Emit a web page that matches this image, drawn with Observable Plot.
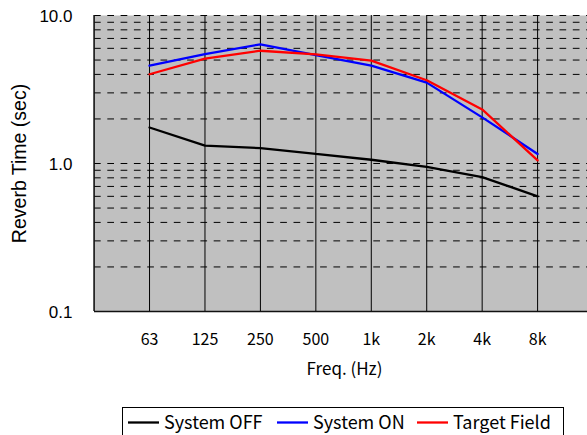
<!DOCTYPE html>
<html><head><meta charset="utf-8">
<script src="https://cdn.jsdelivr.net/npm/d3@7"></script>
<script src="https://cdn.jsdelivr.net/npm/@observablehq/plot@0.6"></script>
<style>
body{margin:0;width:587px;height:435px;overflow:hidden;background:#fff;position:relative}
#chart{position:absolute;left:0;top:0}
#legend{position:absolute;left:0;top:392px}
</style></head><body><div id="chart"></div><div id="legend"></div>
<script>
const freqLabels = ["63","125","250","500","1k","2k","4k","8k"];
const systemOff = [1.75,1.32,1.27,1.16,1.06,0.95,0.81,0.60];
const systemOn = [4.58,5.49,6.39,5.40,4.58,3.52,2.05,1.16];
const targetField = [4.01,5.11,5.78,5.47,4.95,3.65,2.32,1.05];
const seriesNames = ["System OFF","System ON","Target Field"];
const seriesColors = ["#000000","#0000ff","#ff0000"];
const yTicks = [0.1,1,10];
const gridValues = [0.2,0.3,0.4,0.5,0.6,0.7,0.8,0.9,1,2,3,4,5,6,7,8,9,10];
const yTitle = "Reverb Time (sec)";
const xTitle = "Freq. (Hz)";

const seriesValues = [systemOff, systemOn, targetField];
const rows = [];
seriesValues.forEach((vals, s) => vals.forEach((v, i) => rows.push({series: seriesNames[s], idx: i + 1, value: v})));
const catIdx = freqLabels.map((_, i) => i + 1);

const W = 587, H = 392;
const chart = Plot.plot({
  width: W, height: H,
  marginLeft: 94, marginRight: 0, marginTop: 15, marginBottom: H - 311,
  x: {type: "linear", domain: [0, 8.9], range: [93.6, 587], axis: null},
  y: {type: "log", domain: [0.1, 10], range: [311, 15], axis: null},
  color: {domain: seriesNames, range: seriesColors},
  style: {background: "transparent"},
  marks: [
    Plot.frame({fill: "#c0c0c0", stroke: null}),
    Plot.ruleY(gridValues, {stroke: "#000", strokeWidth: 1, strokeDasharray: "6.7,6.6"}),
    Plot.ruleX(catIdx, {stroke: "#000", strokeWidth: 1}),
    Plot.ruleX([0], {stroke: "#111", strokeWidth: 1.6}),
    Plot.ruleY([0.1], {stroke: "#111", strokeWidth: 1.6}),
    Plot.line(rows, {x: "idx", y: "value", z: "series", stroke: "series", strokeWidth: 2.3, strokeLinejoin: "miter"}),
    Plot.text(yTicks, {y: d => d, frameAnchor: "left", dx: -22, dy: 1, text: d => d3.format(".1f")(d), textAnchor: "end",
      fontSize: 17, fontFamily: "Liberation Sans", fill: "#000"}),
    Plot.text(freqLabels, {x: (d, i) => i + 1, frameAnchor: "bottom", dy: 22, lineAnchor: "top", text: d => d,
      fontSize: 16, fontFamily: "Noto Sans CJK JP", fill: "#000"}),
    Plot.text([xTitle], {frameAnchor: "bottom", dx: 3.5, dy: 63, text: d => d, fontSize: 17, fontFamily: "Noto Sans CJK JP", fill: "#000"}),
    Plot.text([yTitle], {frameAnchor: "left", dx: -75, rotate: -90, textAnchor: "middle", text: d => d, fontSize: 19.5, fontFamily: "Liberation Sans", fill: "#000"})
  ]
});
document.getElementById("chart").appendChild(chart);

// legend below the plot (SVG, 587 x 43, top at 392)
const swatchX = [128, 277, 417];
const svg = d3.select("#legend").append("svg").attr("width", 587).attr("height", 43);
svg.append("rect").attr("x", 122.5).attr("y", 15.5).attr("width", 441).attr("height", 40)
  .attr("fill", "#fff").attr("stroke", "#000").attr("stroke-width", 1);
seriesNames.forEach((name, i) => {
  svg.append("line").attr("x1", swatchX[i]).attr("x2", swatchX[i] + 31).attr("y1", 30.5).attr("y2", 30.5)
    .attr("stroke", seriesColors[i]).attr("stroke-width", 2.3);
  svg.append("text").attr("x", swatchX[i] + 36).attr("y", 31).attr("dy", "0.35em")
    .attr("font-family", "Noto Sans CJK JP").attr("font-size", 18).attr("fill", "#000").text(name);
});
</script>
</body></html>
